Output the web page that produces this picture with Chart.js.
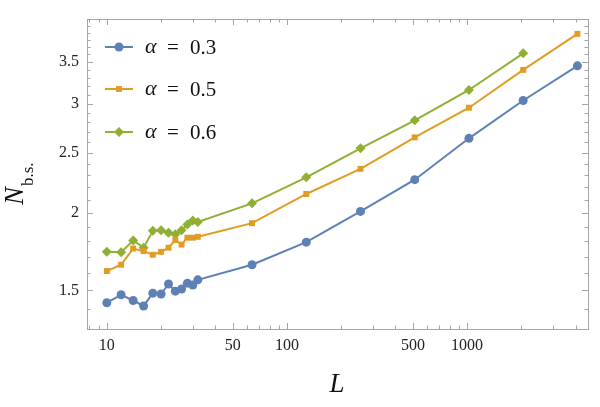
<!DOCTYPE html>
<html lang="en">
<head>
<meta charset="utf-8">
<title>N b.s. versus L</title>
<script src="https://cdn.jsdelivr.net/npm/chart.js@4.4.0/dist/chart.umd.min.js"></script>
<style>
  body { margin: 0; background: #fff; }
</style>
</head>
<body>
<canvas id="myChart" width="600" height="407"></canvas>
<script>
// system sizes L
var sizes = [10, 12, 14, 16, 18, 20, 22, 24, 26, 28, 30, 32, 64, 128, 256, 512, 1024, 2048, 4096];
// N_b.s. for each alpha
var alpha03 = [1.433, 1.476, 1.445, 1.416, 1.485, 1.480, 1.536, 1.496, 1.508, 1.541, 1.530, 1.560,
               1.650, 1.794, 2.011, 2.262, 2.637, 3.034, 3.45];
var alpha05 = [1.612, 1.650, 1.752, 1.735, 1.712, 1.731, 1.758, 1.808, 1.778, 1.824, 1.824, 1.830,
               1.925, 2.145, 2.355, 2.646, 2.954, 3.399, 3.885];
var alpha06 = [1.732, 1.728, 1.805, 1.758, 1.871, 1.875, 1.858, 1.847, 1.875, 1.916, 1.945, 1.934,
               2.072, 2.282, 2.541, 2.819, 3.155, 3.614];
var alphas = ["0.3", "0.5", "0.6"];

// tick labels
var xLabels = [10, 50, 100, 500, 1000];
var yLabels = [1.5, 2, 2.5, 3, 3.5];
var xMinor = [8, 9, 20, 30, 40, 60, 70, 80, 90, 200, 300, 400, 600, 700, 800, 900, 2000, 3000, 4000];
var yMinor = [];
for (var k = 14; k <= 41; k++) yMinor.push(k / 10);

var colors = ["#5e81b5", "#e19c24", "#8fb032"];
var styles = ["circle", "rect", "rectRot"];
var radii = [4.5, 4.2, 5];

function points(vals) {
  var out = [];
  for (var i = 0; i < vals.length; i++) out.push({ x: sizes[i], y: vals[i] });
  return out;
}

var series = [alpha03, alpha05, alpha06];
var dataSets = [];
for (var s = 0; s < series.length; s++) {
  dataSets.push({
    label: "α = " + alphas[s],
    data: points(series[s]),
    borderColor: colors[s],
    backgroundColor: colors[s],
    borderWidth: 2,
    pointStyle: styles[s],
    pointRadius: radii[s],
    pointBorderWidth: 0,
    tension: 0
  });
}

var serif = "'Liberation Serif', 'DejaVu Serif', serif";
var frameColor = "#a6a6a6";

// frame, inward ticks, legend and axis titles
var decorations = {
  id: "decorations",
  beforeDatasetsDraw: function(chart) {
    var ctx = chart.ctx, a = chart.chartArea;
    var xs = chart.scales.x, ys = chart.scales.y;
    ctx.save();
    ctx.strokeStyle = frameColor;
    ctx.lineWidth = 1;
    ctx.strokeRect(a.left + 0.5, a.top + 0.5, a.right - a.left, a.bottom - a.top);
    ctx.beginPath();
    function xt(v, len) {
      var p = Math.round(xs.getPixelForValue(v)) + 0.5;
      if (p < a.left || p > a.right) return;
      ctx.moveTo(p, a.bottom); ctx.lineTo(p, a.bottom - len);
      ctx.moveTo(p, a.top); ctx.lineTo(p, a.top + len);
    }
    function yt(v, len) {
      var p = Math.round(ys.getPixelForValue(v)) + 0.5;
      if (p < a.top || p > a.bottom) return;
      ctx.moveTo(a.left, p); ctx.lineTo(a.left + len, p);
      ctx.moveTo(a.right, p); ctx.lineTo(a.right - len, p);
    }
    xLabels.forEach(function(v) { xt(v, 6); });
    xMinor.forEach(function(v) { xt(v, 3.5); });
    yMinor.forEach(function(v) { yt(v, yLabels.indexOf(v) >= 0 ? 6 : 3.5); });
    ctx.stroke();
    ctx.restore();
  },
  afterDraw: function(chart) {
    var ctx = chart.ctx;
    ctx.save();
    // legend
    var rows = [47, 89, 132];
    chart.data.datasets.forEach(function(ds, i) {
      var y = rows[i];
      ctx.strokeStyle = ds.borderColor;
      ctx.fillStyle = ds.backgroundColor;
      ctx.lineWidth = 2;
      ctx.beginPath();
      ctx.moveTo(105, y); ctx.lineTo(133, y);
      ctx.stroke();
      var r = radii[i], cx = 119;
      ctx.beginPath();
      if (styles[i] === "circle") {
        ctx.arc(cx, y, r, 0, Math.PI * 2);
      } else if (styles[i] === "rect") {
        var h = r * Math.SQRT1_2;
        ctx.rect(cx - h, y - h, 2 * h, 2 * h);
      } else {
        ctx.moveTo(cx - r, y); ctx.lineTo(cx, y - r); ctx.lineTo(cx + r, y); ctx.lineTo(cx, y + r);
        ctx.closePath();
      }
      ctx.fill();
      ctx.fillStyle = "#111";
      ctx.textBaseline = "middle";
      ctx.textAlign = "left";
      ctx.font = "italic 22px " + serif;
      ctx.fillText("α", 145, y);
      ctx.font = "21px " + serif;
      ctx.fillText("=", 167, y + 1);
      ctx.fillText(alphas[i], 190, y + 1);
    });
    // x title
    ctx.fillStyle = "#111";
    ctx.textBaseline = "alphabetic";
    ctx.textAlign = "center";
    ctx.font = "italic 27px " + serif;
    ctx.fillText("L", 337, 392);
    // y title
    ctx.translate(23, 205);
    ctx.rotate(-Math.PI / 2);
    ctx.textAlign = "left";
    ctx.font = "italic 27px " + serif;
    ctx.fillText("N", 0, 0);
    var w = ctx.measureText("N").width;
    ctx.font = "17px " + serif;
    ctx.fillText("b.s.", w + 1, 10);
    ctx.restore();
  }
};

var ctx = document.getElementById("myChart").getContext("2d");
new Chart(ctx, {
  type: "line",
  data: { datasets: dataSets },
  options: {
    responsive: false,
    animation: false,
    layout: { padding: { top: 19, right: 12, left: 0, bottom: 0 } },
    plugins: { legend: { display: false }, tooltip: { enabled: false } },
    scales: {
      x: {
        type: "logarithmic",
        min: 7.76,
        max: 4690,
        grid: { display: false, drawTicks: false },
        border: { display: false },
        ticks: {
          font: { family: serif, size: 16 },
          color: "#222",
          padding: 7,
          maxRotation: 0,
          autoSkip: false,
          callback: function(v) { return xLabels.indexOf(v) >= 0 ? String(v) : ""; }
        },
        afterBuildTicks: function(scale) {
          scale.ticks = xLabels.map(function(v) { return { value: v }; });
        },
        afterFit: function(scale) { scale.height = 78; }
      },
      y: {
        type: "logarithmic",
        min: 1.3166,
        max: 4.105,
        grid: { display: false, drawTicks: false },
        border: { display: false },
        ticks: {
          font: { family: serif, size: 16 },
          color: "#222",
          padding: 8,
          autoSkip: false,
          callback: function(v) { return yLabels.indexOf(v) >= 0 ? String(v) : ""; }
        },
        afterBuildTicks: function(scale) {
          scale.ticks = yLabels.map(function(v) { return { value: v }; });
        },
        afterFit: function(scale) { scale.width = 87; }
      }
    }
  },
  plugins: [decorations]
});
</script>
</body>
</html>
